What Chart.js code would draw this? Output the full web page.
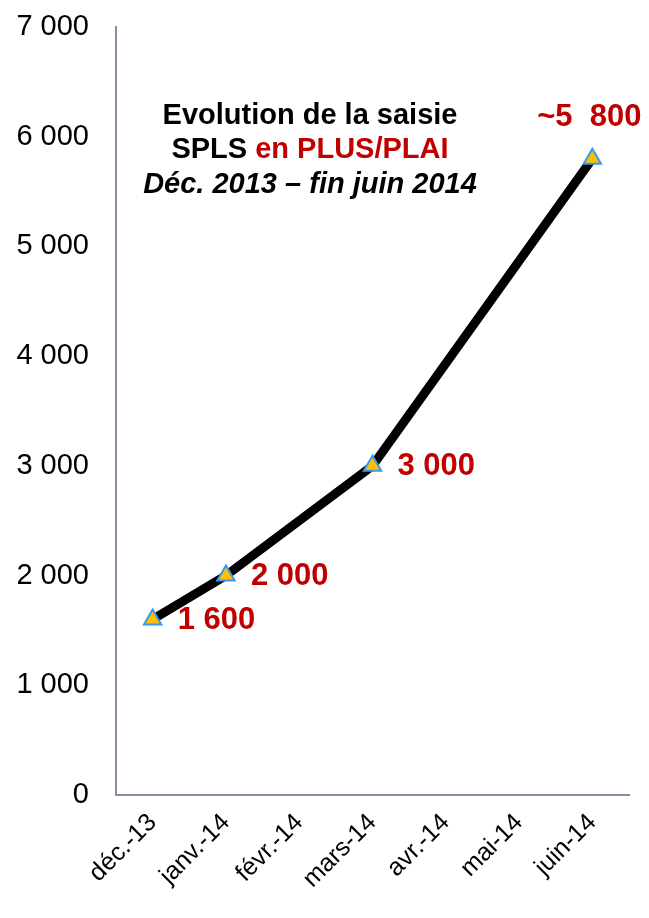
<!DOCTYPE html>
<html>
<head>
<meta charset="utf-8">
<script src="https://cdn.jsdelivr.net/npm/chart.js@4"></script>
<style>
  html, body { margin:0; padding:0; background:#fff; }
  #box { width:649px; height:918px; }
</style>
</head>
<body>
<div id="box"><canvas id="graphique"></canvas></div>
<script>

// données
const mois = ['déc.-13','janv.-14','févr.-14','mars-14','avr.-14','mai-14','juin-14'];
const saisies = [1600, 2000, null, 3000, null, null, 5800];
const etiquettes = ['1 600', '2 000', null, '3 000', null, null, '~5  800'];
const graduations = ['0','1 000','2 000','3 000','4 000','5 000','6 000','7 000'];
const titreLignes = ['Evolution de la saisie', 'SPLS ', 'en PLUS/PLAI', 'Déc. 2013 – fin juin 2014'];

const ROUGE = '#C00000';
const POLICE = '"Liberation Sans", Arial, sans-serif';

// étiquettes des points + titre dans la zone du graphique
const textesPlugin = {
  id:'textes',
  afterDatasetsDraw(chart){
    const ctx = chart.ctx;
    const meta = chart.getDatasetMeta(0);
    ctx.save();
    ctx.font = 'bold 31px ' + POLICE;
    ctx.fillStyle = ROUGE;
    ctx.textBaseline = 'middle';
    meta.data.forEach((pt, i) => {
      const txt = etiquettes[i];
      if(!txt || saisies[i] === null) return;
      if(i === mois.length - 1){
        ctx.textAlign = 'center';
        ctx.fillText(txt, pt.x - 3, pt.y - 41);
      } else {
        ctx.textAlign = 'left';
        ctx.fillText(txt, pt.x + 25, pt.y + 1);
      }
    });

    // titre
    const cx = 310;
    ctx.textAlign = 'center';
    ctx.fillStyle = '#000';
    ctx.font = 'bold 29px ' + POLICE;
    ctx.fillText(titreLignes[0], cx, 116);

    const w1 = ctx.measureText(titreLignes[1]).width;
    const w2 = ctx.measureText(titreLignes[2]).width;
    let x0 = cx - (w1 + w2) / 2;
    ctx.textAlign = 'left';
    ctx.fillText(titreLignes[1], x0, 150);
    ctx.fillStyle = ROUGE;
    ctx.fillText(titreLignes[2], x0 + w1, 150);

    ctx.textAlign = 'center';
    ctx.fillStyle = '#000';
    ctx.font = 'italic bold 29px ' + POLICE;
    ctx.fillText(titreLignes[3], cx, 185);
    ctx.restore();
  }
};

new Chart(document.getElementById('graphique'), {
  type:'line',
  data:{
    labels:mois,
    datasets:[{
      data:saisies,
      spanGaps:true,
      borderColor:'#000',
      borderWidth:9,
      tension:0,
      pointStyle:'triangle',
      pointRadius:10,
      pointBackgroundColor:'#FFC000',
      pointBorderColor:'#3A96F0',
      pointBorderWidth:2
    }]
  },
  options:{
    responsive:true,
    maintainAspectRatio:false,
    animation:false,
    layout:{ padding:{ top:27, right:20, bottom:0, left:0 } },
    plugins:{
      legend:{ display:false },
      tooltip:{ enabled:false }
    },
    scales:{
      x:{
        offset:true,
        grid:{ display:false, drawTicks:false },
        border:{ display:true, color:'#8A8CA2', width:2 },
        afterFit(scale){ scale.height = 123; },
        ticks:{
          color:'#000',
          padding:13,
          maxRotation:45,
          minRotation:45,
          autoSkip:false,
          font:{ family:POLICE, size:25 }
        }
      },
      y:{
        min:0,
        max:7000,
        grid:{ display:false, drawTicks:false },
        border:{ display:true, color:'#8A8CA2', width:2 },
        afterFit(scale){
          scale.width = 116;
          // le padding des graduations ne doit pas réduire la zone en haut
          scale.paddingTop = 17;
          scale.paddingBottom = 17;
        },
        ticks:{
          stepSize:1000,
          color:'#000',
          padding:27,
          font:{ family:POLICE, size:29 },
          callback:(v) => graduations[v / 1000]
        }
      }
    }
  },
  plugins:[textesPlugin]
});

</script>
</body>
</html>
